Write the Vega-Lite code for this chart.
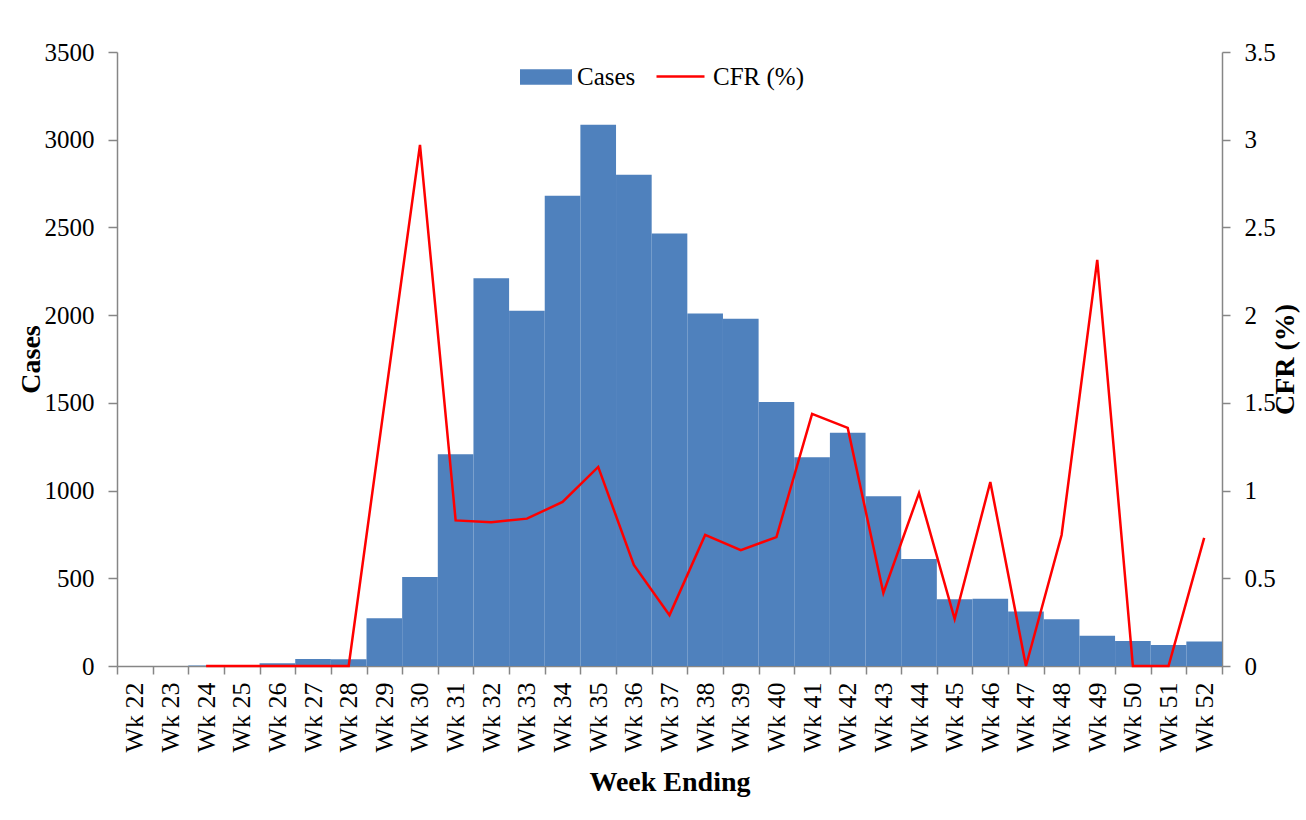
{
  "$schema": "https://vega.github.io/schema/vega-lite/v6.json",
  "width": 1105,
  "height": 614,
  "autosize": {"type": "none"},
  "padding": {"left": 117, "top": 52, "right": 84, "bottom": 154},
  "background": "white",
  "config": {
    "font": "Liberation Serif",
    "view": {"stroke": null},
    "axis": {
      "grid": false,
      "domainColor": "#868686",
      "tickColor": "#868686",
      "domainWidth": 1.5,
      "tickWidth": 1.5,
      "labelColor": "#000000",
      "labelFont": "Liberation Serif",
      "labelFontSize": 25,
      "titleFont": "Liberation Serif",
      "titleFontSize": 28,
      "titleFontWeight": "bold",
      "titleColor": "#000000"
    },
    "legend": {
      "labelFont": "Liberation Serif",
      "labelFontSize": 25,
      "labelColor": "#000000"
    }
  },
  "data": {
    "values": [
      {"week": "Wk 22", "cases": 0, "cfr": null},
      {"week": "Wk 23", "cases": 0, "cfr": null},
      {"week": "Wk 24", "cases": 3, "cfr": 0},
      {"week": "Wk 25", "cases": 2, "cfr": 0},
      {"week": "Wk 26", "cases": 16, "cfr": 0},
      {"week": "Wk 27", "cases": 40, "cfr": 0},
      {"week": "Wk 28", "cases": 38, "cfr": 0},
      {"week": "Wk 29", "cases": 272, "cfr": 1.49},
      {"week": "Wk 30", "cases": 507, "cfr": 2.97},
      {"week": "Wk 31", "cases": 1207, "cfr": 0.83},
      {"week": "Wk 32", "cases": 2210, "cfr": 0.82},
      {"week": "Wk 33", "cases": 2025, "cfr": 0.84},
      {"week": "Wk 34", "cases": 2680, "cfr": 0.935},
      {"week": "Wk 35", "cases": 3085, "cfr": 1.135},
      {"week": "Wk 36", "cases": 2800, "cfr": 0.576},
      {"week": "Wk 37", "cases": 2465, "cfr": 0.29},
      {"week": "Wk 38", "cases": 2010, "cfr": 0.747},
      {"week": "Wk 39", "cases": 1980, "cfr": 0.66},
      {"week": "Wk 40", "cases": 1505, "cfr": 0.735},
      {"week": "Wk 41", "cases": 1190, "cfr": 1.437},
      {"week": "Wk 42", "cases": 1330, "cfr": 1.357},
      {"week": "Wk 43", "cases": 968, "cfr": 0.416},
      {"week": "Wk 44", "cases": 610, "cfr": 0.986},
      {"week": "Wk 45", "cases": 380, "cfr": 0.268},
      {"week": "Wk 46", "cases": 383, "cfr": 1.049},
      {"week": "Wk 47", "cases": 310, "cfr": 0},
      {"week": "Wk 48", "cases": 266, "cfr": 0.747},
      {"week": "Wk 49", "cases": 173, "cfr": 2.315},
      {"week": "Wk 50", "cases": 143, "cfr": 0},
      {"week": "Wk 51", "cases": 120, "cfr": 0},
      {"week": "Wk 52", "cases": 139, "cfr": 0.73}
    ]
  },
  "encoding": {
    "x": {
      "field": "week",
      "type": "nominal",
      "sort": null,
      "scale": {"paddingInner": 0, "paddingOuter": 0},
      "axis": {
        "title": "Week Ending",
        "labelAngle": -90,
        "labelAlign": "right",
        "labelBaseline": "middle",
        "labelPadding": 8,
        "labelFontSize": 26,
        "tickBand": "extent",
        "tickSize": 8,
        "titlePadding": 16
      }
    }
  },
  "layer": [
    {
      "mark": {"type": "bar", "color": "#4F81BD"},
      "encoding": {
        "y": {
          "field": "cases",
          "type": "quantitative",
          "scale": {"domain": [0, 3500], "nice": false},
          "axis": {
            "orient": "left",
            "title": "Cases",
            "values": [0, 500, 1000, 1500, 2000, 2500, 3000, 3500],
            "format": "d",
            "tickSize": 9,
            "labelPadding": 14,
            "titleAngle": -90,
            "titleX": -72,
            "titleBaseline": "bottom"
          }
        },
        "fill": {
          "datum": "Cases",
          "scale": {"range": ["#4F81BD"]},
          "legend": {
            "title": null,
            "orient": "none",
            "direction": "horizontal",
            "legendX": 403,
            "legendY": -1,
            "symbolType": "M-1,-0.3H1V0.3H-1Z",
            "symbolSize": 2704,
            "symbolStrokeWidth": 0,
            "labelOffset": 5
          }
        }
      }
    },
    {
      "transform": [{"filter": "isValid(datum.cfr)"}],
      "mark": {"type": "line", "color": "#FF0000", "strokeWidth": 2.5},
      "encoding": {
        "y": {
          "field": "cfr",
          "type": "quantitative",
          "scale": {"domain": [0, 3.5], "nice": false},
          "axis": {
            "orient": "right",
            "title": "CFR (%)",
            "values": [0, 0.5, 1, 1.5, 2, 2.5, 3, 3.5],
            "format": "~g",
            "tickSize": 8,
            "labelPadding": 14,
            "titleAngle": -90,
            "titleX": 77,
            "titleBaseline": "bottom"
          }
        },
        "stroke": {
          "datum": "CFR (%)",
          "scale": {"range": ["#FF0000"]},
          "legend": {
            "title": null,
            "orient": "none",
            "direction": "horizontal",
            "legendX": 538,
            "legendY": -1,
            "symbolType": "stroke",
            "symbolSize": 2304,
            "symbolStrokeWidth": 2.5,
            "labelOffset": 7
          }
        }
      }
    }
  ],
  "resolve": {"scale": {"y": "independent"}}
}
